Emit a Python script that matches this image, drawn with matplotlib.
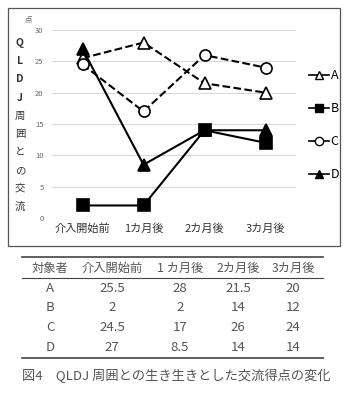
import matplotlib
matplotlib.use("Agg")
import matplotlib.pyplot as plt
from matplotlib.patches import Rectangle
from matplotlib.lines import Line2D

plt.rcParams['font.family'] = ['Noto Sans CJK JP', 'DejaVu Sans']

# data
periods = ["介入開始前", "1カ月後", "2カ月後", "3カ月後"]
table_periods = ["介入開始前", "1 カ月後", "2カ月後", "3カ月後"]
subjects = ["A", "B", "C", "D"]
a_vals = [25.5, 28, 21.5, 20]
b_vals = [2, 2, 14, 12]
c_vals = [24.5, 17, 26, 24]
d_vals = [27, 8.5, 14, 14]
y_ticks = [0, 5, 10, 15, 20, 25, 30]
ylabel_chars = ["Q", "L", "D", "J", "周", "囲", "と", "の", "交", "流"]
caption = "図4　QLDJ 周囲との生き生きとした交流得点の変化"

W, H = 351, 393
fig = plt.figure(figsize=(W / 100, H / 100), dpi=100)

def fx(px):
    return px / W

def fy(py):
    return 1 - py / H

# chart border
fig.patches.append(Rectangle((fx(8), fy(246)), fx(332), (238) / H,
                             transform=fig.transFigure, fill=False,
                             edgecolor="#555555", linewidth=0.9))

ax = fig.add_axes([fx(52), fy(218), fx(244), (218 - 30) / H])
x = range(len(periods))
styles = [
    (a_vals, "--", "^", "white", "A"),
    (b_vals, "-", "s", "black", "B"),
    (c_vals, "--", "o", "white", "C"),
    (d_vals, "-", "^", "black", "D"),
]
handles = []
for vals, ls, mk, fc, lab in styles:
    ln, = ax.plot(x, vals, linestyle=ls, marker=mk, markerfacecolor=fc,
                  markeredgecolor="black", color="black", linewidth=1.5,
                  markersize=8, markeredgewidth=1.2, label=lab, clip_on=False,
                  zorder=3)
    handles.append(ln)

ax.set_xlim(-0.5, 3.5)
ax.set_ylim(0, 30)
ax.set_yticks(y_ticks)
ax.set_xticks(list(x))
ax.set_xticklabels(periods, fontsize=8, color="#333333")
ax.tick_params(axis="y", labelsize=5.5, labelcolor="#666666", length=0, pad=6)
ax.tick_params(axis="x", length=0, pad=4)
ax.grid(axis="y", color="#d9d9d9", linewidth=0.8)
for s in ax.spines.values():
    s.set_visible(False)

fig.text(fx(29), fy(20), "点", fontsize=5.5, color="#666666", ha="center", va="center")
n = len(ylabel_chars)
for i, ch in enumerate(ylabel_chars):
    yy = 43 + i * (207 - 43) / (n - 1)
    fig.text(fx(20), fy(yy), ch, fontsize=7.5, color="#333333",
             ha="center", va="center", weight="bold" if ch.isascii() else "normal")

# legend
leg_handles = [Line2D([0], [0], linestyle="-", marker=h.get_marker(),
                      markerfacecolor=h.get_markerfacecolor(),
                      markeredgecolor="black", color="black", linewidth=1.2,
                      markersize=6) for h in handles]
fig.legend(leg_handles, subjects, loc="center left",
           bbox_to_anchor=(fx(298), fy(125)), frameon=False, fontsize=9,
           handlelength=1.6, handletextpad=0.1, labelspacing=1.6)

# table
cols = [50, 112, 180, 238, 293]
fig.add_artist(Line2D([fx(22), fx(323)], [fy(257), fy(257)], color="#444444", linewidth=1.2))
fig.add_artist(Line2D([fx(22), fx(323)], [fy(278), fy(278)], color="#444444", linewidth=0.8))
fig.add_artist(Line2D([fx(22), fx(323)], [fy(358), fy(358)], color="#444444", linewidth=1.2))
header = ["対象者"] + table_periods
for cx, t in zip(cols, header):
    fig.text(fx(cx), fy(268), t, fontsize=8.8, color="#555555", ha="center", va="center")
rows = [a_vals, b_vals, c_vals, d_vals]
for i, (name, vals) in enumerate(zip(subjects, rows)):
    yy = 288 + i * 19.7
    fig.text(fx(cols[0]), fy(yy), name, fontsize=9.5, color="#555555", ha="center", va="center")
    for cx, v in zip(cols[1:], vals):
        fig.text(fx(cx), fy(yy), f"{v:g}", fontsize=9.5, color="#555555",
                 ha="center", va="center")

fig.text(fx(22), fy(376), caption, fontsize=9.5, color="#555555", ha="left", va="center")

fig.savefig("out.png", dpi=100)
